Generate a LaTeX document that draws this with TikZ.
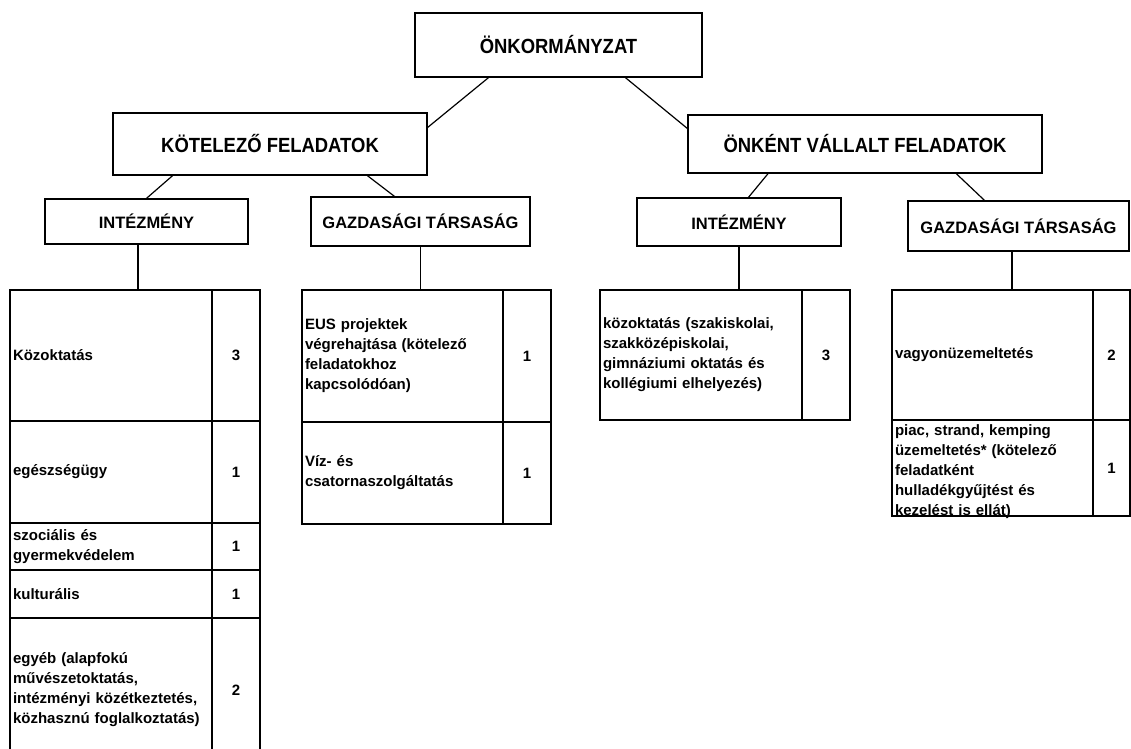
\documentclass[tikz,border=0pt]{standalone}
\usepackage{fontspec}
\setmainfont{Liberation Sans}
\newfontfamily\narrowfont[FakeStretch=0.9]{Liberation Sans}
\newcommand{\headfont}{\fontsize{20.5}{24}\selectfont\narrowfont\bfseries}
\newcommand{\subfont}{\fontsize{16.5}{20}\selectfont\bfseries}
\newcommand{\cellfont}{\fontsize{15}{20}\selectfont\bfseries}
\begin{document}
\begin{tikzpicture}[x=1pt,y=-1pt,
    head/.style={draw,line width=1.3pt,font=\headfont,inner sep=0pt},
    sub/.style={draw,line width=1.3pt,font=\subfont,inner sep=0pt},
    cell/.style={draw,line width=2pt,anchor=north west,outer sep=0pt,inner xsep=3pt,inner ysep=0pt,align=left,font=\cellfont},
    num/.style={draw,line width=2pt,anchor=north west,outer sep=0pt,inner sep=0pt,minimum width=48pt,font=\cellfont},
    link/.style={line width=1.2pt}]
    \useasboundingbox (0,0) rectangle (1131,748);
    \clip (0,0) rectangle (1131,748);
        \draw
        (558.5,45) node[head,minimum width=287pt,minimum height=64pt] (onk) {ÖNKORMÁNYZAT}
        (270,144) node[head,minimum width=314pt,minimum height=62pt] (kot) {KÖTELEZŐ FELADATOK}
        (865,144) node[head,minimum width=354pt,minimum height=58pt] (onv) {ÖNKÉNT VÁLLALT FELADATOK}
        (146.5,221.5) node[sub,minimum width=203pt,minimum height=45pt] (intK) {INTÉZMÉNY}
        (420.5,221.5) node[sub,minimum width=219pt,minimum height=49pt] (gtK) {GAZDASÁGI TÁRSASÁG}
        (739,222) node[sub,minimum width=204pt,minimum height=48pt] (intV) {INTÉZMÉNY}
        (1018.5,226) node[sub,minimum width=221pt,minimum height=50pt] (gtV) {GAZDASÁGI TÁRSASÁG}
        ;
        % kotelezo - intezmeny
        \draw
        (10,290) node[cell,text width=196pt,minimum height=131pt] (ki1) {Közoktatás}
        (212,290) node[num,minimum height=131pt] (ki1n) {3}
        (10,421) node[cell,text width=196pt,minimum height=102pt] (ki2) {egészségügy}
        (212,421) node[num,minimum height=102pt] (ki2n) {1}
        (10,523) node[cell,text width=196pt,minimum height=47pt] (ki3) {szociális és\\gyermekvédelem}
        (212,523) node[num,minimum height=47pt] (ki3n) {1}
        (10,570) node[cell,text width=196pt,minimum height=48pt] (ki4) {kulturális}
        (212,570) node[num,minimum height=48pt] (ki4n) {1}
        (10,618) node[cell,text width=196pt,minimum height=144pt] (ki5) {egyéb (alapfokú\\művészetoktatás,\\intézményi közétkeztetés,\\közhasznú foglalkoztatás)}
        (212,618) node[num,minimum height=144pt] (ki5n) {2}
        ;
        % kotelezo - gazdasagi tarsasag
        \draw
        (302,290) node[cell,text width=195pt,minimum height=132pt] (kg1) {EUS projektek\\végrehajtása (kötelező\\feladatokhoz\\kapcsolódóan)}
        (503,290) node[num,minimum height=132pt] (kg1n) {1}
        (302,422) node[cell,text width=195pt,minimum height=102pt] (kg2) {Víz- és\\csatornaszolgáltatás}
        (503,422) node[num,minimum height=102pt] (kg2n) {1}
        ;
        % onkent vallalt
        \draw
        (600,290) node[cell,text width=196pt,minimum height=130pt] (vi1) {közoktatás (szakiskolai,\\szakközépiskolai,\\gimnáziumi oktatás és\\kollégiumi elhelyezés)}
        (802,290) node[num,minimum height=130pt] (vi1n) {3}
        (892,290) node[cell,text width=195pt,minimum height=130pt] (vg1) {vagyonüzemeltetés}
        (1093,290) node[num,minimum width=37pt,minimum height=130pt] (vg1n) {2}
        (892,420) node[cell,text width=195pt,minimum height=96pt] (vg2) {\raisebox{-7pt}[0pt][0pt]{\begin{tabular}{@{}l@{}}piac, strand, kemping\\üzemeltetés* (kötelező\\feladatként\\hulladékgyűjtést és\\kezelést is ellát)\end{tabular}}}
        (1093,420) node[num,minimum width=37pt,minimum height=96pt] (vg2n) {1}
        ;
        \draw[link] (onk.205) -- (kot.6);
        \draw[link] (onk.334) -- (onv.175);
        \draw[link] (kot.198) -- (intK.north);
        \draw[link] (kot.342) -- (gtK.136);
        \draw[link] (onv.197) -- (intV.69);
        \draw[link] (onv.342) -- (gtV.143);
        \draw[link] ([xshift=-8.5pt]intK.south) -- ([xshift=-8.5pt]intK.south |- ki1.north);
        \draw[link] (gtK.south) -- (gtK.south |- kg1.north);
        \draw[link] (intV.south) -- (intV.south |- vi1.north);
        \draw[link] ([xshift=-6.5pt]gtV.south) -- ([xshift=-6.5pt]gtV.south |- vg1.north);
\end{tikzpicture}
\end{document}
